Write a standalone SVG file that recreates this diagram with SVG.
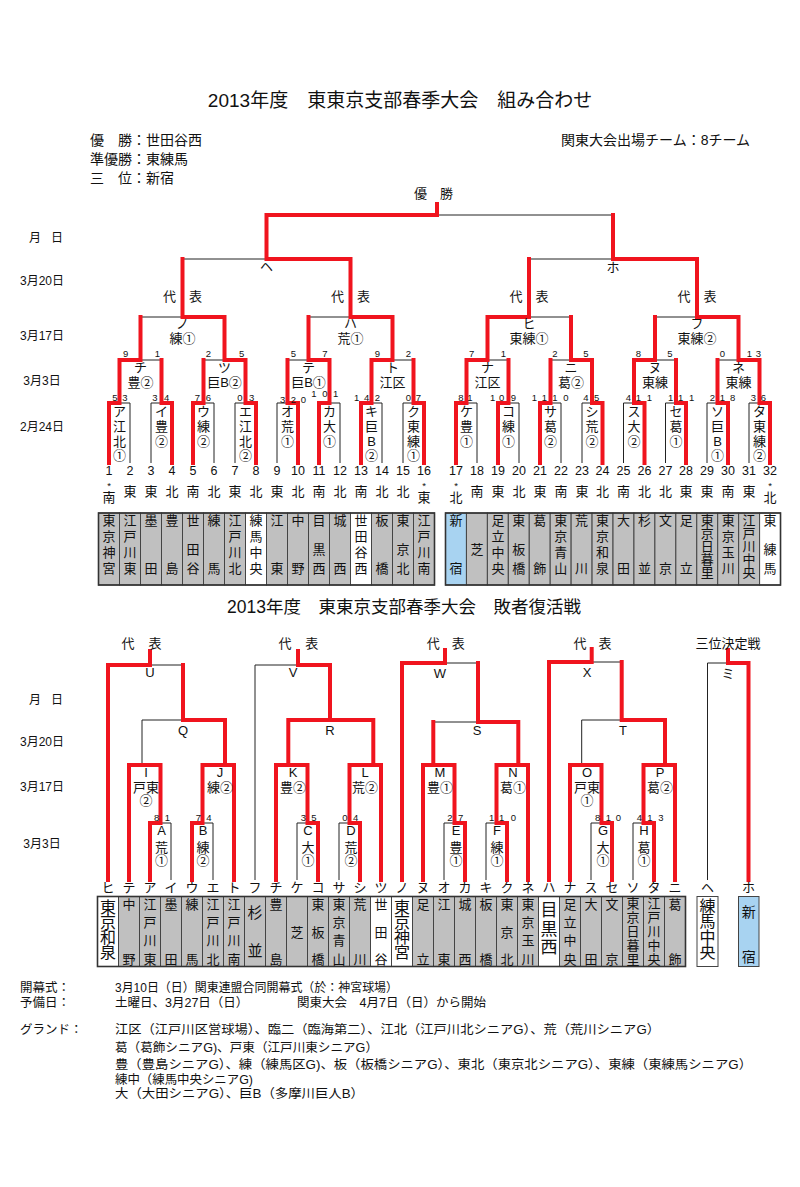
<svg xmlns="http://www.w3.org/2000/svg" width="800" height="1187" viewBox="0 0 800 1187">
<style>
.b{fill:none;stroke:#222;stroke-width:1}
.r{fill:none;stroke:#f0141e;stroke-width:4;stroke-linecap:square;stroke-linejoin:miter}
text{font-family:"Liberation Sans","Noto Sans CJK JP",sans-serif;fill:#111;dominant-baseline:central;text-anchor:middle;font-size:13px}
.st{text-anchor:start}
.en{text-anchor:end}
.sc{font-size:9.5px}
.nm{font-size:12.5px}
.sm{font-size:12px}
.ft{font-size:12.5px;text-anchor:start}
.big{font-size:16px}
.h1{font-size:19px}
.h2{font-size:17.5px}
.inf{font-size:14px}
.cg{fill:#c0c0c0;stroke:#444;stroke-width:1}
.cw{fill:#fff;stroke:#444;stroke-width:1}
.cb{fill:#a8d3f1;stroke:#444;stroke-width:1}
.frame{fill:none;stroke:#333;stroke-width:1.6}
</style>
<rect width="800" height="1187" fill="#fff"/>

<!-- headers -->
<g id="header">
<text class="h1" x="400" y="100">2013年度　東東京支部春季大会　組み合わせ</text>
<text class="st inf" x="90" y="140">優　勝：世田谷西</text>
<text class="st inf" x="90" y="159">準優勝：東練馬</text>
<text class="st inf" x="90" y="178">三　位：新宿</text>
<text class="en inf" x="750" y="140">関東大会出場チーム：8チーム</text>
<text x="433.5" y="193">優　勝</text>
</g>

<g id="dates-top">
<text class="sm" x="35" y="238">月</text><text class="sm" x="57" y="238">日</text>
<text class="sm" x="42" y="281">3月20日</text>
<text class="sm" x="42" y="336">3月17日</text>
<text class="sm" x="42" y="381">3月3日</text>
<text class="sm" x="42" y="427">2月24日</text>
</g>

<!-- connectors -->
<g id="connectors">
<path class="b" d="M109 463V403H130V463M151 463V403H172V463M193 463V403H214V463M235 463V403H256V463M277 463V403H298V463M319 463V403H340V463M361 463V403H382V463M403 463V403H424V463M456 463V403H477V463M498 463V403H519V463M540 463V403H561V463M582 463V403H602.5V463M623.5 463V403H644.5V463M665.5 463V403H686V463M707 463V403H728V463M749 463V403H770V463
M119.5 403V360H161.5V403M203.5 403V360H245.5V403M287.5 403V360H329.5V403M371.5 403V360H413.5V403M466.5 403V360H508.5V403M550.5 403V360H592V403M634 403V360H676V403M717.5 403V360H759.5V403
M140.5 360V317H224.5V360M308.5 360V317H392.5V360M487.5 360V317H571V360M655 360V317H738.5V360
M182.5 317V259H350.5V317M529 317V259H697V317
M266.5 259V215H613V259M437 215V204"/>
<path class="r" d="M109 463V403H119.5V360M172 463V403H161.5V360M193 463V403H203.5V360M256 463V403H245.5V360M298 463V403H287.5V360M319 463V403H329.5V360M361 463V403H371.5V360M424 463V403H413.5V360M456 463V403H466.5V360M498 463V403H508.5V360M540 463V403H550.5V360M602.5 463V403H592V360M644.5 463V403H634V360M686 463V403H676V360M728 463V403H717.5V360M770 463V403H759.5V360
M119.5 360H140.5V317M245.5 360H224.5V317M329.5 360H308.5V317M371.5 360H392.5V317M466.5 360H487.5V317M592 360H571V317M634 360H655V317M759.5 360H738.5V317
M224.5 317H182.5V259M392.5 317H350.5V259M487.5 317H529V259M738.5 317H697V259
M350.5 259H266.5V215M697 259H613V215
M266.5 215H437V204"/>
<!-- bottom bracket black -->
<path class="b" d="M108 880V665H183V720M150 665V651M142 765V720H225V765M129 880V765H160.5V823M150 880V823H171V880M192 880V823H213V880M202.5 823V765H234V880
M255 880V665H330V720M298 665V651M288.3 765V720H373.3V765M276 880V765H307.5V823M297 880V823H318V880M349.5 823V765H381V880M339 880V823H360V880
M402 880V663H478V722M445 663V650M433.3 765V722H518.3V765M423 880V765H454.5V823M444 880V823H465V880M496.5 823V765H528V880M486 880V823H507V880
M549 880V662H621.7V720M591.7 662V649M581.7 765V720H665V765M570 880V765H601.5V823M591 880V823H612V880M643.5 823V765H675V880M633 880V823H654V880
M707.5 880V663H748.5V880M728 663V650"/>
<path class="r" d="M108 880V665H150V651M183 665V720H225V765M202.5 823V765H234V880M192 880V823H202.5M129 880V765H160.5V823H150V880
M298 651V665H330V720M288.3 765V720H373.3V765M276 880V765H307.5V823H318V880M360 880V823H349.5V765H381V880
M402 880V663H445V650M478 663V722H518.3V765M433.3 722V765M423 880V765H454.5V823H465V880M507 880V823H496.5V765H528V880
M549 880V662H591.7V649M621.7 662V720H665V765M570 880V765H601.5V823H612V880M654 880V823H643.5V765H675V880
M728 650V663H748.5V880"/>
</g>

<!-- top bracket matches -->
<g id="m-he"><text x="266.5" y="266">ヘ</text></g>
<g id="m-ho"><text x="613" y="267">ホ</text></g>
<g id="rep-top">
<text x="182.5" y="296">代　表</text>
<text x="350.5" y="296">代　表</text>
<text x="529" y="296">代　表</text>
<text x="697" y="296">代　表</text>
</g>
<g id="m-no"><text x="182.5" y="323">ノ</text><text x="182.5" y="338">練①</text></g>
<g id="m-ha"><text x="350.5" y="323">ハ</text><text x="350.5" y="338">荒①</text></g>
<g id="m-hi"><text x="529" y="323">ヒ</text><text x="529" y="338">東練①</text></g>
<g id="m-fu"><text x="697" y="323">フ</text><text x="697" y="338">東練②</text></g>

<g id="m-chi"><text x="140.5" y="367">チ</text><text x="140.5" y="382">豊②</text><text class="sc" x="125.7" y="353">9</text><text class="sc" x="157.3" y="353">1</text></g>
<g id="m-tsu"><text x="224.5" y="367">ツ</text><text x="224.5" y="382">巨B②</text><text class="sc" x="208.3" y="353">2</text><text class="sc" x="241.7" y="353">5</text></g>
<g id="m-te"><text x="308.5" y="367">テ</text><text x="308.5" y="382">巨B①</text><text class="sc" x="293.3" y="353">5</text><text class="sc" x="325" y="353">7</text></g>
<g id="m-to"><text x="392.5" y="367">ト</text><text x="392.5" y="382">江区</text><text class="sc" x="377.3" y="353">9</text><text class="sc" x="408.3" y="353">2</text></g>
<g id="m-na"><text x="487.5" y="367">ナ</text><text x="487.5" y="382">江区</text><text class="sc" x="471.7" y="353">7</text><text class="sc" x="503.3" y="353">1</text></g>
<g id="m-ni"><text x="571" y="367">ニ</text><text x="571" y="382">葛②</text><text class="sc" x="555" y="353">2</text><text class="sc" x="586" y="353">5</text></g>
<g id="m-nu"><text x="655" y="367">ヌ</text><text x="655" y="382">東練</text><text class="sc" x="638.3" y="353">8</text><text class="sc" x="670" y="353">5</text></g>
<g id="m-ne"><text x="738.5" y="367">ネ</text><text x="738.5" y="382">東練</text><text class="sc" x="722.3" y="353">0</text><text class="sc" x="749.3" y="353">1</text><text class="sc" x="758.3" y="353">3</text></g>

<g id="m-a"><text><tspan x="119.5" y="411">ア</tspan><tspan x="119.5" y="426">江</tspan><tspan x="119.5" y="440.5">北</tspan><tspan x="119.5" y="455">①</tspan></text><text class="sc" x="115" y="397">5</text><text class="sc" x="125" y="397">3</text></g>
<g id="m-i"><text><tspan x="161.5" y="411">イ</tspan><tspan x="161.5" y="426">豊</tspan><tspan x="161.5" y="440.5">②</tspan></text><text class="sc" x="155" y="397">3</text><text class="sc" x="166.7" y="397">4</text></g>
<g id="m-u"><text><tspan x="203.5" y="411">ウ</tspan><tspan x="203.5" y="426">練</tspan><tspan x="203.5" y="440.5">②</tspan></text><text class="sc" x="197.3" y="397">7</text><text class="sc" x="208.3" y="397">6</text></g>
<g id="m-e"><text><tspan x="245.5" y="411">エ</tspan><tspan x="245.5" y="426">江</tspan><tspan x="245.5" y="440.5">北</tspan><tspan x="245.5" y="455">②</tspan></text><text class="sc" x="240" y="397">0</text><text class="sc" x="251.7" y="397">3</text></g>
<g id="m-o"><text><tspan x="287.5" y="411">オ</tspan><tspan x="287.5" y="426">荒</tspan><tspan x="287.5" y="440.5">①</tspan></text><text class="sc" x="282.7" y="399">3</text><text class="sc" x="293.3" y="399">2</text><text class="sc" x="303.3" y="399">0</text></g>
<g id="m-ka"><text><tspan x="329.5" y="411">カ</tspan><tspan x="329.5" y="426">大</tspan><tspan x="329.5" y="440.5">①</tspan></text><text class="sc" x="314" y="393">1</text><text class="sc" x="325" y="393">0</text><text class="sc" x="335.7" y="393">1</text></g>
<g id="m-ki"><text><tspan x="371.5" y="411">キ</tspan><tspan x="371.5" y="426">巨</tspan><tspan x="371.5" y="440.5">B</tspan><tspan x="371.5" y="455">②</tspan></text><text class="sc" x="356.7" y="397">1</text><text class="sc" x="366.7" y="397">4</text><text class="sc" x="377.3" y="397">2</text></g>
<g id="m-ku"><text><tspan x="413.5" y="411">ク</tspan><tspan x="413.5" y="426">東</tspan><tspan x="413.5" y="440.5">練</tspan><tspan x="413.5" y="455">①</tspan></text><text class="sc" x="408.3" y="397">0</text><text class="sc" x="418.3" y="397">7</text></g>
<g id="m-ke"><text><tspan x="466.5" y="411">ケ</tspan><tspan x="466.5" y="426">豊</tspan><tspan x="466.5" y="440.5">①</tspan></text><text class="sc" x="461" y="397">8</text><text class="sc" x="470" y="397">1</text></g>
<g id="m-ko"><text><tspan x="508.5" y="411">コ</tspan><tspan x="508.5" y="426">練</tspan><tspan x="508.5" y="440.5">①</tspan></text><text class="sc" x="492.7" y="397">1</text><text class="sc" x="501.7" y="397">0</text><text class="sc" x="513.3" y="397">9</text></g>
<g id="m-sa"><text><tspan x="550.5" y="411">サ</tspan><tspan x="550.5" y="426">葛</tspan><tspan x="550.5" y="440.5">②</tspan></text><text class="sc" x="534.3" y="397">1</text><text class="sc" x="544.3" y="397">1</text><text class="sc" x="555" y="397">1</text><text class="sc" x="566" y="397">0</text></g>
<g id="m-shi"><text><tspan x="592" y="411">シ</tspan><tspan x="592" y="426">荒</tspan><tspan x="592" y="440.5">②</tspan></text><text class="sc" x="586" y="397">4</text><text class="sc" x="596.7" y="397">5</text></g>
<g id="m-su"><text><tspan x="634" y="411">ス</tspan><tspan x="634" y="426">大</tspan><tspan x="634" y="440.5">②</tspan></text><text class="sc" x="628.3" y="397">4</text><text class="sc" x="638.3" y="397">1</text><text class="sc" x="649.3" y="397">1</text></g>
<g id="m-se"><text><tspan x="676" y="411">セ</tspan><tspan x="676" y="426">葛</tspan><tspan x="676" y="440.5">①</tspan></text><text class="sc" x="670.7" y="397">1</text><text class="sc" x="680.7" y="397">1</text><text class="sc" x="691.7" y="397">1</text></g>
<g id="m-so"><text><tspan x="717.5" y="411">ソ</tspan><tspan x="717.5" y="426">巨</tspan><tspan x="717.5" y="440.5">B</tspan><tspan x="717.5" y="455">①</tspan></text><text class="sc" x="712.3" y="397">2</text><text class="sc" x="722.3" y="397">1</text><text class="sc" x="732.7" y="397">8</text></g>
<g id="m-ta"><text><tspan x="759.5" y="411">タ</tspan><tspan x="759.5" y="426">東</tspan><tspan x="759.5" y="440.5">練</tspan><tspan x="759.5" y="455">②</tspan></text><text class="sc" x="753.3" y="397">3</text><text class="sc" x="763.3" y="397">6</text></g>

<!-- leaf numbers and areas -->
<g id="leaf-numbers">
<text class="nm" x="109" y="470.5">1</text><text class="nm" x="130" y="470.5">2</text><text class="nm" x="151" y="470.5">3</text><text class="nm" x="172" y="470.5">4</text><text class="nm" x="193" y="470.5">5</text><text class="nm" x="214" y="470.5">6</text><text class="nm" x="235" y="470.5">7</text><text class="nm" x="256" y="470.5">8</text><text class="nm" x="277" y="470.5">9</text><text class="nm" x="298" y="470.5">10</text><text class="nm" x="319" y="470.5">11</text><text class="nm" x="340" y="470.5">12</text><text class="nm" x="361" y="470.5">13</text><text class="nm" x="382" y="470.5">14</text><text class="nm" x="403" y="470.5">15</text><text class="nm" x="424" y="470.5">16</text>
<text class="nm" x="456" y="470.5">17</text><text class="nm" x="477" y="470.5">18</text><text class="nm" x="498" y="470.5">19</text><text class="nm" x="519" y="470.5">20</text><text class="nm" x="540" y="470.5">21</text><text class="nm" x="561" y="470.5">22</text><text class="nm" x="582" y="470.5">23</text><text class="nm" x="602.5" y="470.5">24</text><text class="nm" x="623.5" y="470.5">25</text><text class="nm" x="644.5" y="470.5">26</text><text class="nm" x="665.5" y="470.5">27</text><text class="nm" x="686" y="470.5">28</text><text class="nm" x="707" y="470.5">29</text><text class="nm" x="728" y="470.5">30</text><text class="nm" x="749" y="470.5">31</text><text class="nm" x="770" y="470.5">32</text>
</g>
<g id="leaf-areas">
<text class="sc" x="109" y="485">*</text><text x="109" y="497">南</text><text x="130" y="491.5">東</text><text x="151" y="491.5">東</text><text x="172" y="491.5">北</text><text x="193" y="491.5">南</text><text x="214" y="491.5">北</text><text x="235" y="491.5">東</text><text x="256" y="491.5">北</text><text x="277" y="491.5">東</text><text x="298" y="491.5">北</text><text x="319" y="491.5">南</text><text x="340" y="491.5">北</text><text x="361" y="491.5">南</text><text x="382" y="491.5">北</text><text x="403" y="491.5">北</text><text class="sc" x="424" y="485">*</text><text x="424" y="497">東</text>
<text class="sc" x="456" y="485">*</text><text x="456" y="497">北</text><text x="477" y="491.5">南</text><text x="498" y="491.5">東</text><text x="519" y="491.5">北</text><text x="540" y="491.5">東</text><text x="561" y="491.5">南</text><text x="582" y="491.5">東</text><text x="602.5" y="491.5">北</text><text x="623.5" y="491.5">南</text><text x="644.5" y="491.5">北</text><text x="665.5" y="491.5">北</text><text x="686" y="491.5">東</text><text x="707" y="491.5">東</text><text x="728" y="491.5">南</text><text x="749" y="491.5">東</text><text class="sc" x="770" y="485">*</text><text x="770" y="497">北</text>
</g>

<!-- top team cells -->
<g id="t1"><rect class="cg" x="98.5" y="513" width="21" height="72"/><text><tspan x="109" y="520">東</tspan><tspan x="109" y="536">京</tspan><tspan x="109" y="552">神</tspan><tspan x="109" y="568">宮</tspan></text></g>
<g id="t2"><rect class="cg" x="119.5" y="513" width="21" height="72"/><text><tspan x="130" y="520">江</tspan><tspan x="130" y="536">戸</tspan><tspan x="130" y="552">川</tspan><tspan x="130" y="568">東</tspan></text></g>
<g id="t3"><rect class="cg" x="140.5" y="513" width="21" height="72"/><text><tspan x="151" y="520">墨</tspan><tspan x="151" y="568">田</tspan></text></g>
<g id="t4"><rect class="cg" x="161.5" y="513" width="21" height="72"/><text><tspan x="172" y="520">豊</tspan><tspan x="172" y="568">島</tspan></text></g>
<g id="t5"><rect class="cg" x="182.5" y="513" width="21" height="72"/><text><tspan x="193" y="520">世</tspan><tspan x="193" y="549">田</tspan><tspan x="193" y="568">谷</tspan></text></g>
<g id="t6"><rect class="cg" x="203.5" y="513" width="21" height="72"/><text><tspan x="214" y="520">練</tspan><tspan x="214" y="568">馬</tspan></text></g>
<g id="t7"><rect class="cg" x="224.5" y="513" width="21" height="72"/><text><tspan x="235" y="520">江</tspan><tspan x="235" y="536">戸</tspan><tspan x="235" y="552">川</tspan><tspan x="235" y="568">北</tspan></text></g>
<g id="t8"><rect class="cw" x="245.5" y="513" width="21" height="72"/><text><tspan x="256" y="520">練</tspan><tspan x="256" y="536">馬</tspan><tspan x="256" y="552">中</tspan><tspan x="256" y="568">央</tspan></text></g>
<g id="t9"><rect class="cg" x="266.5" y="513" width="21" height="72"/><text><tspan x="277" y="520">江</tspan><tspan x="277" y="568">東</tspan></text></g>
<g id="t10"><rect class="cg" x="287.5" y="513" width="21" height="72"/><text><tspan x="298" y="520">中</tspan><tspan x="298" y="568">野</tspan></text></g>
<g id="t11"><rect class="cg" x="308.5" y="513" width="21" height="72"/><text><tspan x="319" y="520">目</tspan><tspan x="319" y="549">黒</tspan><tspan x="319" y="568">西</tspan></text></g>
<g id="t12"><rect class="cg" x="329.5" y="513" width="21" height="72"/><text><tspan x="340" y="520">城</tspan><tspan x="340" y="568">西</tspan></text></g>
<g id="t13"><rect class="cw" x="350.5" y="513" width="21" height="72"/><text><tspan x="361" y="520">世</tspan><tspan x="361" y="536">田</tspan><tspan x="361" y="552">谷</tspan><tspan x="361" y="568">西</tspan></text></g>
<g id="t14"><rect class="cg" x="371.5" y="513" width="21" height="72"/><text><tspan x="382" y="520">板</tspan><tspan x="382" y="568">橋</tspan></text></g>
<g id="t15"><rect class="cg" x="392.5" y="513" width="21" height="72"/><text><tspan x="403" y="520">東</tspan><tspan x="403" y="549">京</tspan><tspan x="403" y="568">北</tspan></text></g>
<g id="t16"><rect class="cg" x="413.5" y="513" width="21" height="72"/><text><tspan x="424" y="520">江</tspan><tspan x="424" y="536">戸</tspan><tspan x="424" y="552">川</tspan><tspan x="424" y="568">南</tspan></text></g>
<rect class="frame" x="98.5" y="513" width="336" height="72"/>

<g id="t17"><rect class="cb" x="445.5" y="513" width="20.94" height="72"/><text><tspan x="456" y="520">新</tspan><tspan x="456" y="568">宿</tspan></text></g>
<g id="t18"><rect class="cg" x="466.44" y="513" width="20.94" height="72"/><text><tspan x="476.9" y="549">芝</tspan></text></g>
<g id="t19"><rect class="cg" x="487.38" y="513" width="20.94" height="72"/><text><tspan x="497.9" y="520">足</tspan><tspan x="497.9" y="536">立</tspan><tspan x="497.9" y="552">中</tspan><tspan x="497.9" y="568">央</tspan></text></g>
<g id="t20"><rect class="cg" x="508.32" y="513" width="20.94" height="72"/><text><tspan x="518.8" y="520">東</tspan><tspan x="518.8" y="549">板</tspan><tspan x="518.8" y="568">橋</tspan></text></g>
<g id="t21"><rect class="cg" x="529.26" y="513" width="20.94" height="72"/><text><tspan x="539.7" y="520">葛</tspan><tspan x="539.7" y="568">飾</tspan></text></g>
<g id="t22"><rect class="cg" x="550.2" y="513" width="20.94" height="72"/><text><tspan x="560.7" y="520">東</tspan><tspan x="560.7" y="536">京</tspan><tspan x="560.7" y="552">青</tspan><tspan x="560.7" y="568">山</tspan></text></g>
<g id="t23"><rect class="cg" x="571.14" y="513" width="20.94" height="72"/><text><tspan x="581.6" y="520">荒</tspan><tspan x="581.6" y="568">川</tspan></text></g>
<g id="t24"><rect class="cg" x="592.08" y="513" width="20.94" height="72"/><text><tspan x="602.5" y="520">東</tspan><tspan x="602.5" y="536">京</tspan><tspan x="602.5" y="552">和</tspan><tspan x="602.5" y="568">泉</tspan></text></g>
<g id="t25"><rect class="cg" x="613.02" y="513" width="20.94" height="72"/><text><tspan x="623.5" y="520">大</tspan><tspan x="623.5" y="568">田</tspan></text></g>
<g id="t26"><rect class="cg" x="633.96" y="513" width="20.94" height="72"/><text><tspan x="644.4" y="520">杉</tspan><tspan x="644.4" y="568">並</tspan></text></g>
<g id="t27"><rect class="cg" x="654.9" y="513" width="20.94" height="72"/><text><tspan x="665.4" y="520">文</tspan><tspan x="665.4" y="568">京</tspan></text></g>
<g id="t28"><rect class="cg" x="675.84" y="513" width="20.94" height="72"/><text><tspan x="686.3" y="520">足</tspan><tspan x="686.3" y="568">立</tspan></text></g>
<g id="t29"><rect class="cg" x="696.78" y="513" width="20.94" height="72"/><text><tspan x="707.3" y="519.5">東</tspan><tspan x="707.3" y="532.5">京</tspan><tspan x="707.3" y="545.5">日</tspan><tspan x="707.3" y="558.5">暮</tspan><tspan x="707.3" y="571.5">里</tspan></text></g>
<g id="t30"><rect class="cg" x="717.72" y="513" width="20.94" height="72"/><text><tspan x="728.2" y="520">東</tspan><tspan x="728.2" y="536">京</tspan><tspan x="728.2" y="552">玉</tspan><tspan x="728.2" y="568">川</tspan></text></g>
<g id="t31"><rect class="cg" x="738.66" y="513" width="20.94" height="72"/><text><tspan x="749.1" y="519.5">江</tspan><tspan x="749.1" y="532.5">戸</tspan><tspan x="749.1" y="545.5">川</tspan><tspan x="749.1" y="558.5">中</tspan><tspan x="749.1" y="571.5">央</tspan></text></g>
<g id="t32"><rect class="cw" x="759.6" y="513" width="20.94" height="72"/><text><tspan x="770.1" y="520">東</tspan><tspan x="770.1" y="549">練</tspan><tspan x="770.1" y="568">馬</tspan></text></g>
<rect class="frame" x="445.5" y="513" width="335" height="72"/>

<!-- bottom section -->
<g id="header2"><text class="h2" x="404" y="607">2013年度　東東京支部春季大会　敗者復活戦</text></g>
<g id="dates-bottom">
<text class="sm" x="35" y="700">月</text><text class="sm" x="57" y="700">日</text>
<text class="sm" x="42" y="742">3月20日</text>
<text class="sm" x="42" y="787">3月17日</text>
<text class="sm" x="42" y="844">3月3日</text>
</g>
<g id="rep-bottom">
<text x="128" y="643">代</text><text x="155" y="643">表</text>
<text x="285" y="643">代</text><text x="311.7" y="643">表</text>
<text x="433.3" y="643">代</text><text x="458.3" y="643">表</text>
<text x="580" y="643">代</text><text x="605" y="643">表</text>
<text x="728" y="643">三位決定戦</text>
</g>
<g id="b-U"><text x="150" y="672">U</text></g>
<g id="b-V"><text x="293" y="672">V</text></g>
<g id="b-W"><text x="440" y="673">W</text></g>
<g id="b-X"><text x="587" y="672">X</text></g>
<g id="b-mi"><text x="728" y="673">ミ</text></g>
<g id="b-Q"><text x="183" y="730">Q</text></g>
<g id="b-R"><text x="330" y="730">R</text></g>
<g id="b-S"><text x="477" y="730">S</text></g>
<g id="b-T"><text x="623" y="730">T</text></g>
<g id="b-I"><text x="146" y="772">I</text><text x="146" y="787">戸東</text><text x="146" y="800">②</text></g>
<g id="b-J"><text x="220" y="772">J</text><text x="220" y="787">練②</text></g>
<g id="b-K"><text x="293" y="772">K</text><text x="293" y="787">豊②</text></g>
<g id="b-L"><text x="365" y="772">L</text><text x="365" y="787">荒②</text></g>
<g id="b-M"><text x="440" y="772">M</text><text x="440" y="787">豊①</text></g>
<g id="b-N"><text x="513" y="772">N</text><text x="513" y="787">葛①</text></g>
<g id="b-O"><text x="587" y="772">O</text><text x="587" y="787">戸東</text><text x="587" y="800">①</text></g>
<g id="b-P"><text x="660" y="772">P</text><text x="660" y="787">葛②</text></g>
<g id="b-A"><text><tspan x="161.5" y="830">A</tspan><tspan x="161.5" y="846.5">荒</tspan><tspan x="161.5" y="860">①</tspan></text><text class="sc" x="156.7" y="817">8</text><text class="sc" x="167.3" y="817">1</text></g>
<g id="b-B"><text><tspan x="203" y="830">B</tspan><tspan x="203" y="846.5">練</tspan><tspan x="203" y="860">②</tspan></text><text class="sc" x="198.3" y="817">7</text><text class="sc" x="209" y="817">4</text></g>
<g id="b-C"><text><tspan x="308" y="830">C</tspan><tspan x="308" y="846.5">大</tspan><tspan x="308" y="860">①</tspan></text><text class="sc" x="303.3" y="817">3</text><text class="sc" x="314" y="817">5</text></g>
<g id="b-D"><text><tspan x="351" y="830">D</tspan><tspan x="351" y="846.5">荒</tspan><tspan x="351" y="860">②</tspan></text><text class="sc" x="345" y="817">0</text><text class="sc" x="355.7" y="817">4</text></g>
<g id="b-E"><text><tspan x="456" y="830">E</tspan><tspan x="456" y="846.5">豊</tspan><tspan x="456" y="860">①</tspan></text><text class="sc" x="450" y="817">2</text><text class="sc" x="460.7" y="817">7</text></g>
<g id="b-F"><text><tspan x="497" y="830">F</tspan><tspan x="497" y="846.5">練</tspan><tspan x="497" y="860">①</tspan></text><text class="sc" x="491.7" y="817">1</text><text class="sc" x="501.7" y="817">1</text><text class="sc" x="513.3" y="817">0</text></g>
<g id="b-G"><text><tspan x="603" y="830">G</tspan><tspan x="603" y="846.5">大</tspan><tspan x="603" y="860">①</tspan></text><text class="sc" x="597.7" y="817">8</text><text class="sc" x="608.3" y="817">1</text><text class="sc" x="618.3" y="817">0</text></g>
<g id="b-H"><text><tspan x="644" y="830">H</tspan><tspan x="644" y="846.5">葛</tspan><tspan x="644" y="860">①</tspan></text><text class="sc" x="639.3" y="817">4</text><text class="sc" x="650" y="817">1</text><text class="sc" x="661" y="817">3</text></g>

<g id="bottom-kana">
<text x="108" y="887">ヒ</text><text x="129" y="887">テ</text><text x="150" y="887">ア</text><text x="171" y="887">イ</text><text x="192" y="887">ウ</text><text x="213" y="887">エ</text><text x="234" y="887">ト</text><text x="255" y="887">フ</text><text x="276" y="887">チ</text><text x="297" y="887">ケ</text><text x="318" y="887">コ</text><text x="339" y="887">サ</text><text x="360" y="887">シ</text><text x="381" y="887">ツ</text><text x="402" y="887">ノ</text><text x="423" y="887">ヌ</text><text x="444" y="887">オ</text><text x="465" y="887">カ</text><text x="486" y="887">キ</text><text x="507" y="887">ク</text><text x="528" y="887">ネ</text><text x="549" y="887">ハ</text><text x="570" y="887">ナ</text><text x="591" y="887">ス</text><text x="612" y="887">セ</text><text x="633" y="887">ソ</text><text x="654" y="887">タ</text><text x="675" y="887">ニ</text><text x="707.5" y="887">ヘ</text><text x="748.5" y="887">ホ</text>
</g>

<g id="bt0"><rect class="cw" x="97.5" y="896.5" width="21" height="70"/><text class="big"><tspan x="108" y="906.5">東</tspan><tspan x="108" y="921.5">京</tspan><tspan x="108" y="936.5">和</tspan><tspan x="108" y="952">泉</tspan></text></g>
<g id="bt1"><rect class="cg" x="118.5" y="896.5" width="21" height="70"/><text><tspan x="129" y="903.5">中</tspan><tspan x="129" y="958.5">野</tspan></text></g>
<g id="bt2"><rect class="cg" x="139.5" y="896.5" width="21" height="70"/><text><tspan x="150" y="903.5">江</tspan><tspan x="150" y="922">戸</tspan><tspan x="150" y="940">川</tspan><tspan x="150" y="958.5">東</tspan></text></g>
<g id="bt3"><rect class="cg" x="160.5" y="896.5" width="21" height="70"/><text><tspan x="171" y="903.5">墨</tspan><tspan x="171" y="958.5">田</tspan></text></g>
<g id="bt4"><rect class="cg" x="181.5" y="896.5" width="21" height="70"/><text><tspan x="192" y="903.5">練</tspan><tspan x="192" y="958.5">馬</tspan></text></g>
<g id="bt5"><rect class="cg" x="202.5" y="896.5" width="21" height="70"/><text><tspan x="213" y="903.5">江</tspan><tspan x="213" y="922">戸</tspan><tspan x="213" y="940">川</tspan><tspan x="213" y="958.5">北</tspan></text></g>
<g id="bt6"><rect class="cg" x="223.5" y="896.5" width="21" height="70"/><text><tspan x="234" y="903.5">江</tspan><tspan x="234" y="922">戸</tspan><tspan x="234" y="940">川</tspan><tspan x="234" y="958.5">南</tspan></text></g>
<g id="bt7"><rect class="cg" x="244.5" y="896.5" width="21" height="70"/><text style="font-size:15px"><tspan x="255" y="912">杉</tspan><tspan x="255" y="950">並</tspan></text></g>
<g id="bt8"><rect class="cg" x="265.5" y="896.5" width="21" height="70"/><text><tspan x="276" y="903.5">豊</tspan><tspan x="276" y="958.5">島</tspan></text></g>
<g id="bt9"><rect class="cg" x="286.5" y="896.5" width="21" height="70"/><text><tspan x="297" y="932">芝</tspan></text></g>
<g id="bt10"><rect class="cg" x="307.5" y="896.5" width="21" height="70"/><text><tspan x="318" y="903.5">東</tspan><tspan x="318" y="932">板</tspan><tspan x="318" y="958.5">橋</tspan></text></g>
<g id="bt11"><rect class="cg" x="328.5" y="896.5" width="21" height="70"/><text><tspan x="339" y="903.5">東</tspan><tspan x="339" y="922">京</tspan><tspan x="339" y="940">青</tspan><tspan x="339" y="958.5">山</tspan></text></g>
<g id="bt12"><rect class="cg" x="349.5" y="896.5" width="21" height="70"/><text><tspan x="360" y="903.5">荒</tspan><tspan x="360" y="958.5">川</tspan></text></g>
<g id="bt13"><rect class="cw" x="370.5" y="896.5" width="21" height="70"/><text><tspan x="381" y="903.5">世</tspan><tspan x="381" y="932">田</tspan><tspan x="381" y="958.5">谷</tspan></text></g>
<g id="bt14"><rect class="cw" x="391.5" y="896.5" width="21" height="70"/><text class="big"><tspan x="402" y="906.5">東</tspan><tspan x="402" y="921.5">京</tspan><tspan x="402" y="936.5">神</tspan><tspan x="402" y="952">宮</tspan></text></g>
<g id="bt15"><rect class="cg" x="412.5" y="896.5" width="21" height="70"/><text><tspan x="423" y="903.5">足</tspan><tspan x="423" y="958.5">立</tspan></text></g>
<g id="bt16"><rect class="cg" x="433.5" y="896.5" width="21" height="70"/><text><tspan x="444" y="903.5">江</tspan><tspan x="444" y="958.5">東</tspan></text></g>
<g id="bt17"><rect class="cg" x="454.5" y="896.5" width="21" height="70"/><text><tspan x="465" y="903.5">城</tspan><tspan x="465" y="958.5">西</tspan></text></g>
<g id="bt18"><rect class="cg" x="475.5" y="896.5" width="21" height="70"/><text><tspan x="486" y="903.5">板</tspan><tspan x="486" y="958.5">橋</tspan></text></g>
<g id="bt19"><rect class="cg" x="496.5" y="896.5" width="21" height="70"/><text><tspan x="507" y="903.5">東</tspan><tspan x="507" y="932">京</tspan><tspan x="507" y="958.5">北</tspan></text></g>
<g id="bt20"><rect class="cg" x="517.5" y="896.5" width="21" height="70"/><text><tspan x="528" y="903.5">東</tspan><tspan x="528" y="922">京</tspan><tspan x="528" y="940">玉</tspan><tspan x="528" y="958.5">川</tspan></text></g>
<g id="bt21"><rect class="cw" x="538.5" y="896.5" width="21" height="70"/><text style="font-size:17px"><tspan x="549" y="910">目</tspan><tspan x="549" y="928.5">黒</tspan><tspan x="549" y="947">西</tspan></text></g>
<g id="bt22"><rect class="cg" x="559.5" y="896.5" width="21" height="70"/><text><tspan x="570" y="903.5">足</tspan><tspan x="570" y="922">立</tspan><tspan x="570" y="940">中</tspan><tspan x="570" y="958.5">央</tspan></text></g>
<g id="bt23"><rect class="cg" x="580.5" y="896.5" width="21" height="70"/><text><tspan x="591" y="903.5">大</tspan><tspan x="591" y="958.5">田</tspan></text></g>
<g id="bt24"><rect class="cg" x="601.5" y="896.5" width="21" height="70"/><text><tspan x="612" y="903.5">文</tspan><tspan x="612" y="958.5">京</tspan></text></g>
<g id="bt25"><rect class="cg" x="622.5" y="896.5" width="21" height="70"/><text><tspan x="633" y="903">東</tspan><tspan x="633" y="917">京</tspan><tspan x="633" y="931">日</tspan><tspan x="633" y="945">暮</tspan><tspan x="633" y="959">里</tspan></text></g>
<g id="bt26"><rect class="cg" x="643.5" y="896.5" width="21" height="70"/><text><tspan x="654" y="903">江</tspan><tspan x="654" y="917">戸</tspan><tspan x="654" y="931">川</tspan><tspan x="654" y="945">中</tspan><tspan x="654" y="959">央</tspan></text></g>
<g id="bt27"><rect class="cg" x="664.5" y="896.5" width="21" height="70"/><text><tspan x="675" y="903.5">葛</tspan><tspan x="675" y="958.5">飾</tspan></text></g>
<rect class="frame" x="97.5" y="896.5" width="588" height="70"/>
<g id="bt-he"><rect class="cw" x="697" y="896.5" width="21" height="70" stroke-width="1.5"/><text class="big"><tspan x="707.5" y="905.5">練</tspan><tspan x="707.5" y="921">馬</tspan><tspan x="707.5" y="936.5">中</tspan><tspan x="707.5" y="952">央</tspan></text></g>
<g id="bt-ho"><rect class="cb" x="738.5" y="896.5" width="20.5" height="70" stroke-width="1.5"/><text style="font-size:14px"><tspan x="748.7" y="912">新</tspan><tspan x="748.7" y="957">宿</tspan></text></g>

<!-- footer -->
<g id="footer">
<text class="ft" x="20" y="988">開幕式：</text>
<text class="ft" x="115" y="988" textLength="283" lengthAdjust="spacingAndGlyphs">3月10日（日）関東連盟合同開幕式（於：神宮球場）</text>
<text class="ft" x="20" y="1003">予備日：</text>
<text class="ft" x="115" y="1003">土曜日、3月27日（日）</text>
<text class="ft" x="297" y="1003">関東大会　4月7日（日）から開始</text>
<text class="ft" x="20" y="1030">グランド：</text>
<text class="ft" x="115" y="1030" textLength="545" lengthAdjust="spacingAndGlyphs">江区（江戸川区営球場）、臨二（臨海第二）、江北（江戸川北シニアG）、荒（荒川シニアG）</text>
<text class="ft" x="115" y="1048" textLength="263" lengthAdjust="spacingAndGlyphs">葛（葛飾シニアG)、戸東（江戸川東シニアG）</text>
<text class="ft" x="115" y="1065" textLength="637" lengthAdjust="spacingAndGlyphs">豊（豊島シニアG）、練（練馬区G)、板（板橋シニアG）、東北（東京北シニアG）、東練（東練馬シニアG）</text>
<text class="ft" x="115" y="1080" textLength="138" lengthAdjust="spacingAndGlyphs">練中（練馬中央シニアG)</text>
<text class="ft" x="115" y="1094" textLength="249" lengthAdjust="spacingAndGlyphs">大（大田シニアG）、巨B（多摩川巨人B）</text>
</g>
</svg>
